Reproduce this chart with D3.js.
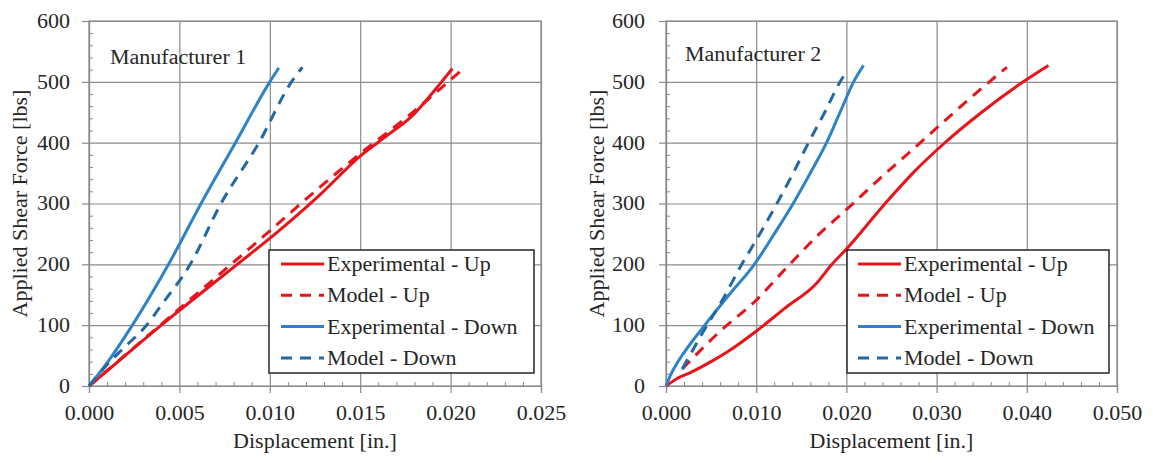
<html>
<head>
<style>
    body { margin: 0; background: #fff; }
    svg text { font-family: "Liberation Serif", "DejaVu Serif", serif; }
</style>
</head>
<body>
    <svg id="chart"></svg>
    <script src="https://d3js.org/d3.v7.min.js"></script>
    <script>
    // series are [displacement (in.), force (lbs)] pairs
    var legendLabels = ["Experimental - Up", "Model - Up", "Experimental - Down", "Model - Down"]
    var forceTicks = [0, 100, 200, 300, 400, 500, 600]
    var m1DispTicks = [0, 0.005, 0.010, 0.015, 0.020, 0.025]
    var m2DispTicks = [0, 0.010, 0.020, 0.030, 0.040, 0.050]

    // Manufacturer 1
    var m1ExpUp = [[0,0],[0.0020,50],[0.0040,100],[0.0060,148],[0.0082,200],[0.0105,255],[0.0128,315],[0.0150,378],[0.0165,412],[0.0178,442],[0.0195,500],[0.0201,522]]
    var m1ModelUp = [[0,0],[0.0050,127],[0.0100,255],[0.0125,320],[0.0150,382],[0.0175,440],[0.0206,519]]
    var m1ExpDown = [[0,0],[0.0010,38],[0.0024,100],[0.0044,200],[0.0062,300],[0.0081,400],[0.0100,500],[0.0105,523]]
    var m1ModelDown = [[0,0],[0.0010,35],[0.0019,62],[0.0031,97],[0.0040,133],[0.0056,200],[0.0073,300],[0.0094,400],[0.0112,500],[0.0118,524]]

    // Manufacturer 2
    var m2ExpUp = [[0,0],[0.0012,12],[0.0027,22],[0.0050,40],[0.0075,63],[0.0100,90],[0.0132,128],[0.0167,169],[0.0184,200],[0.0200,225],[0.0243,300],[0.0275,352],[0.0307,397],[0.0350,450],[0.0396,500],[0.0424,527]]
    var m2ModelUp = [[0.0018,28],[0.0060,90],[0.0100,141],[0.0134,195],[0.0170,250],[0.0200,290],[0.0240,345],[0.0282,400],[0.0312,440],[0.0345,483],[0.0378,524]]
    var m2ExpDown = [[0,0],[0.0005,18],[0.0012,37],[0.0020,55],[0.0043,100],[0.0070,150],[0.0098,200],[0.0120,250],[0.0141,300],[0.0160,350],[0.0178,400],[0.0193,450],[0.0208,500],[0.0219,527]]
    var m2ModelDown = [[0.0018,28],[0.0038,81],[0.0062,140],[0.0084,200],[0.0104,250],[0.0123,300],[0.0141,350],[0.0158,400],[0.0176,450],[0.0193,500],[0.0200,516]]

    var styles = [
        {color: "#e8141c", dash: null},
        {color: "#e8141c", dash: "11,8"},
        {color: "#2e82c8", dash: null},
        {color: "#2468a2", dash: "11,8"}
    ]

    var svg = d3.select("#chart").attr("width", 1153).attr("height", 463)

    // the picture's text runs about 10% wider than plain Times
    function stretch(sel) {
        sel.attr("font-size", 20).attr("fill", "#262626")
        sel.each(function() {
            var w = this.getComputedTextLength()
            d3.select(this).attr("textLength", w * 1.1).attr("lengthAdjust", "spacingAndGlyphs")
        })
    }

    function drawPanel(p) {
        var xScale = d3.scaleLinear().domain([0, p.xMax]).range([p.left, p.right])
        var yScale = d3.scaleLinear().domain([0, 600]).range([p.bottom, p.top])
        var h = p.bottom - p.top
        var w = p.right - p.left
        var g = svg.append("g")

        // grid
        g.append("g")
            .attr("transform", "translate(0," + p.bottom + ")")
            .call(d3.axisBottom(xScale).tickValues(p.xTicks).tickSize(-h).tickFormat(""))
            .call(function(a) { a.select(".domain").remove() })
            .selectAll("line").attr("stroke", "#8a8a8a").attr("stroke-width", 1.2)
        g.append("g")
            .attr("transform", "translate(" + p.left + ",0)")
            .call(d3.axisLeft(yScale).tickValues(forceTicks).tickSize(-w).tickFormat(""))
            .call(function(a) { a.select(".domain").remove() })
            .selectAll("line").attr("stroke", "#8a8a8a").attr("stroke-width", 1.2)
        g.append("rect")
            .attr("x", p.left).attr("y", p.top).attr("width", w).attr("height", h)
            .attr("fill", "none").attr("stroke", "#8a8a8a").attr("stroke-width", 1.2)

        // minor ticks, inward
        var minorX = d3.range(0, p.xMax + 1e-9, p.xMinor).filter(function(v) { return p.xTicks.every(function(t) { return Math.abs(t - v) > 1e-9 }) })
        var minorY = d3.range(0, 601, 20).filter(function(v) { return v % 100 != 0 })
        g.append("g")
            .attr("transform", "translate(0," + p.bottom + ")")
            .call(d3.axisBottom(xScale).tickValues(minorX).tickSize(-4).tickFormat(""))
            .call(function(a) { a.select(".domain").remove() })
            .selectAll("line").attr("stroke", "#8a8a8a")
        g.append("g")
            .attr("transform", "translate(" + p.left + ",0)")
            .call(d3.axisLeft(yScale).tickValues(minorY).tickSize(-4).tickFormat(""))
            .call(function(a) { a.select(".domain").remove() })
            .selectAll("line").attr("stroke", "#8a8a8a")

        // major axes with labels
        var xAxis = g.append("g")
            .attr("transform", "translate(0," + p.bottom + ")")
            .call(d3.axisBottom(xScale).tickValues(p.xTicks).tickSize(7).tickPadding(13).tickFormat(d3.format(".3f")))
        var yAxis = g.append("g")
            .attr("transform", "translate(" + p.left + ",0)")
            .call(d3.axisLeft(yScale).tickValues(forceTicks).tickSize(7).tickPadding(p.yPad).tickFormat(d3.format("d")))
        ;[xAxis, yAxis].forEach(function(a) {
            a.attr("font-family", null)
            a.selectAll(".domain").attr("stroke", "#8a8a8a").attr("stroke-width", 1.2)
            a.selectAll("line").attr("stroke", "#8a8a8a").attr("stroke-width", 1.2)
            stretch(a.selectAll("text"))
        })

        // series
        var line = d3.line()
            .curve(d3.curveMonotoneX)
            .x(function(d) { return xScale(d[0]) })
            .y(function(d) { return yScale(d[1]) })
        p.series.forEach(function(s, i) {
            g.append("path")
                .datum(s)
                .attr("d", line)
                .attr("fill", "none")
                .attr("stroke", styles[i].color)
                .attr("stroke-width", 3)
                .attr("stroke-dasharray", styles[i].dash)
        })

        // titles
        stretch(g.append("text")
            .attr("x", p.nameX).attr("y", p.nameY)
            .text(p.name))
        stretch(g.append("text")
            .attr("x", (p.left + p.right) / 2).attr("y", 448)
            .attr("text-anchor", "middle")
            .text("Displacement  [in.]"))
        stretch(g.append("text")
            .attr("transform", "translate(" + p.yTitleX + "," + (p.top + p.bottom) / 2 + ") rotate(-90)")
            .attr("text-anchor", "middle")
            .text("Applied Shear Force [lbs]"))

        // legend
        var lg = g.append("g")
        lg.append("rect")
            .attr("x", p.legend.x).attr("y", p.legend.y)
            .attr("width", p.legend.w).attr("height", p.legend.h)
            .attr("fill", "#fff").attr("stroke", "#262626").attr("stroke-width", 1.5)
        legendLabels.forEach(function(label, i) {
            var cy = p.legend.y + 14 + i * 31.3
            lg.append("line")
                .attr("x1", p.legend.lineX).attr("x2", p.legend.lineX + 43)
                .attr("y1", cy).attr("y2", cy)
                .attr("stroke", styles[i].color)
                .attr("stroke-width", 3)
                .attr("stroke-dasharray", styles[i].dash)
            stretch(lg.append("text")
                .attr("x", p.legend.lineX + 46).attr("y", cy + 7)
                .text(label))
        })
    }

    drawPanel({
        left: 89, right: 541, top: 21, bottom: 386,
        xMax: 0.025, xTicks: m1DispTicks, xMinor: 0.001, yPad: 12,
        name: "Manufacturer 1", nameX: 110, nameY: 64,
        yTitleX: 27,
        legend: {x: 269, y: 250, w: 265, h: 123, lineX: 281},
        series: [m1ExpUp, m1ModelUp, m1ExpDown, m1ModelDown]
    })
    drawPanel({
        left: 666, right: 1117, top: 21, bottom: 386,
        xMax: 0.05, xTicks: m2DispTicks, xMinor: 0.002, yPad: 14,
        name: "Manufacturer 2", nameX: 685, nameY: 61,
        yTitleX: 604,
        legend: {x: 847, y: 250, w: 262, h: 123, lineX: 858},
        series: [m2ExpUp, m2ModelUp, m2ExpDown, m2ModelDown]
    })
    </script>
</body>
</html>
